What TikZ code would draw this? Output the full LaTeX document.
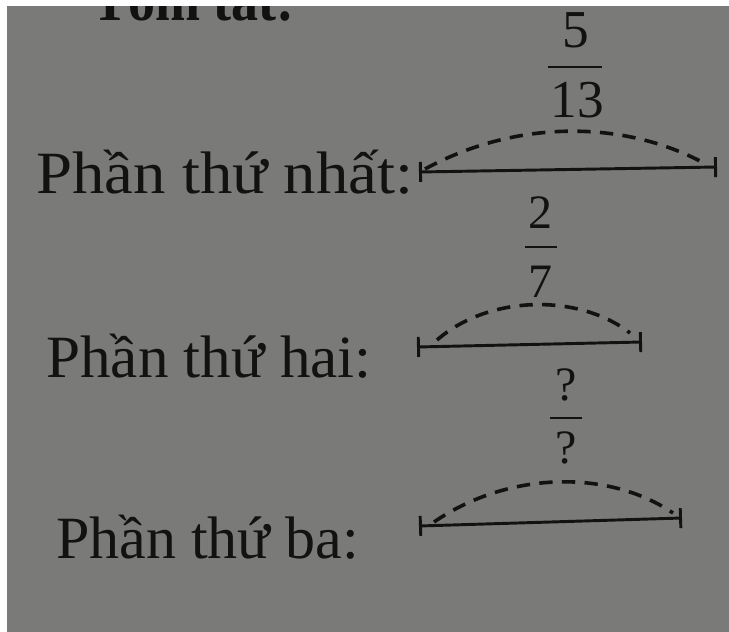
\documentclass[tikz,border=0pt]{standalone}
\usepackage{fontspec}
\setmainfont{Liberation Serif}
\usetikzlibrary{arrows.meta}
\definecolor{paper}{HTML}{7A7A78}
\definecolor{ink}{HTML}{121212}
\tikzset{
  lbl/.style={anchor=base west, inner sep=0pt, text=ink, font=\fontsize{45}{50}\selectfont},
  num/.style={anchor=base, inner sep=0pt, text=ink},
  seg/.style={draw=ink, line width=2.2pt, {Bar[width=15pt,line width=2.2pt]}-{Bar[width=15pt,line width=2.2pt]}},
  arcd/.style={draw=ink, line width=2.7pt, dash pattern=on 10pt off 7pt},
  fbar/.style={draw=ink, line width=2pt}
}
\begin{document}
\begin{tikzpicture}[x=0.75pt,y=-0.75pt]
\useasboundingbox (0,0) rectangle (729,632);
\fill[white] (0,0) rectangle (729,632);
\fill[paper] (7,6) rectangle (729,632);
\begin{scope}
\clip (7,6) rectangle (729,632);
\node[lbl, font=\fontsize{45}{50}\selectfont\bfseries, xscale=0.9] (top) at (92,20) {Tóm tắt:};
\end{scope}
% row 1
\node[lbl, xscale=1.08] (t1) at (36,193) {Phần thứ nhất:};
\coordinate (a1) at (419,172);
\coordinate (b1) at (717,167);
\draw[seg] (a1) -- (b1);
\coordinate (s1) at (425,169);
\coordinate (e1) at (700,161);
\draw[arcd] (s1) .. controls (515,120) and (620,120) .. (e1);
\node[num, font=\fontsize{40}{42}\selectfont] (n1) at (576,47) {5};
\draw[fbar] (548,67) -- (602,67);
\node[num, font=\fontsize{40}{42}\selectfont] (d1) at (577,117) {13};
% row 2
\node[lbl, xscale=1.02] (t2) at (46,377) {Phần thứ hai:};
\coordinate (a2) at (417,347);
\coordinate (b2) at (642,342);
\draw[seg] (a2) -- (b2);
\coordinate (s2) at (437,340);
\coordinate (e2) at (630,333);
\draw[arcd] (s2) .. controls (490,294) and (580,294) .. (e2);
\node[num, font=\fontsize{36}{38}\selectfont] (n2) at (540,228) {2};
\draw[fbar] (525,247) -- (557,247);
\node[num, font=\fontsize{36}{38}\selectfont] (d2) at (540,297) {7};
% row 3
\node[lbl, xscale=1.0] (t3) at (56,558) {Phần thứ ba:};
\coordinate (a3) at (419,526);
\coordinate (b3) at (682,518);
\draw[seg] (a3) -- (b3);
\coordinate (s3) at (434,522);
\coordinate (e3) at (673,513);
\draw[arcd] (s3) .. controls (510,470) and (610,470) .. (e3);
\node[num, font=\fontsize{36}{38}\selectfont] (n3) at (566,400) {?};
\draw[fbar] (550,418) -- (582,418);
\node[num, font=\fontsize{36}{38}\selectfont] (d3) at (566,463) {?};
\end{tikzpicture}
\end{document}
